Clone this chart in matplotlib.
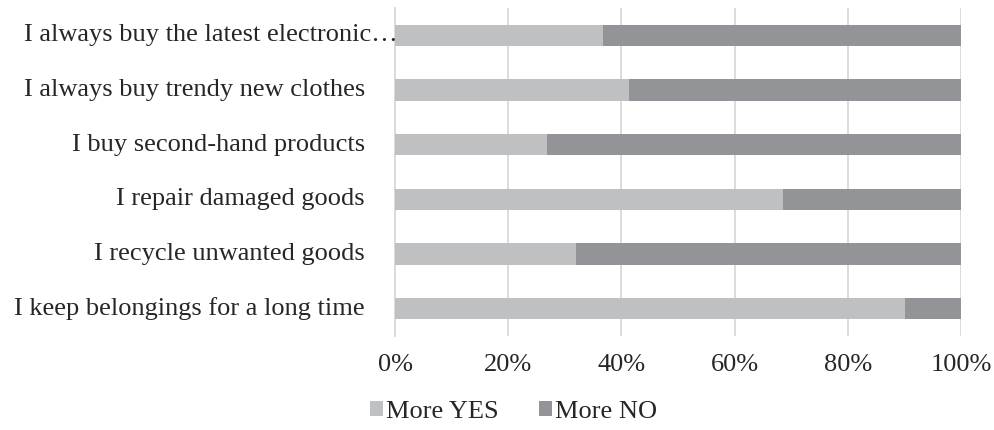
import matplotlib
matplotlib.use('Agg')
import matplotlib.pyplot as plt

categories = [
    'I always buy the latest electronic\u2026',
    'I always buy trendy new clothes',
    'I buy second-hand products',
    'I repair damaged goods',
    'I recycle unwanted goods',
    'I keep belongings for a long time',
]
more_yes = [36.7, 41.3, 26.9, 68.6, 31.9, 90.1]
more_no = [100 - v for v in more_yes]
xticks = [0, 20, 40, 60, 80, 100]
xtick_labels = ['0%', '20%', '40%', '60%', '80%', '100%']

plt.rcParams['font.family'] = ['Liberation Serif', 'DejaVu Serif']

C_YES = '#bfc0c2'
C_NO = '#939497'
GRID = '#d9d9d9'
TXT = '#262626'
FS = 19

fig = plt.figure(figsize=(9.95, 4.3), dpi=100)
ax = fig.add_axes([0.397, 0.219, 0.569, 0.762])

ypos = list(range(len(categories)))
ax.barh(ypos, more_yes, height=0.39, color=C_YES, label='More YES', zorder=3)
ax.barh(ypos, more_no, left=more_yes, height=0.39, color=C_NO, label='More NO', zorder=3)

ax.set_xlim(0, 100)
ax.set_ylim(len(categories) - 0.5, -0.5)
ax.set_xticks(xticks)
ax.set_xticklabels(xtick_labels, fontsize=FS, color=TXT)
ax.tick_params(axis='x', length=0, pad=13)
ax.set_yticks(ypos)
ax.set_yticklabels([''] * len(categories))
ax.tick_params(axis='y', length=0)
ax.grid(axis='x', color=GRID, linewidth=1.3, zorder=0)
for s in ['top', 'right', 'bottom']:
    ax.spines[s].set_visible(False)
ax.spines['left'].set_color(GRID)
ax.spines['left'].set_linewidth(1.3)

# category labels; the long one is clipped Excel-style and sits closer to the axis
for i, c in enumerate(categories):
    off = 3 if c.endswith('\u2026') else -30
    ax.annotate(c, xy=(0, i), xycoords=('axes fraction', 'data'),
                xytext=(off, 0), textcoords='offset pixels',
                ha='right', va='center', fontsize=FS, color=TXT)

fig.legend(loc='center', bbox_to_anchor=(0.516, 0.042), ncol=2, frameon=False,
           fontsize=FS, handlelength=0.5, handleheight=0.5, handletextpad=0.1,
           columnspacing=1.55, labelcolor=TXT)

fig.savefig('out.png', dpi=100, facecolor='white')
